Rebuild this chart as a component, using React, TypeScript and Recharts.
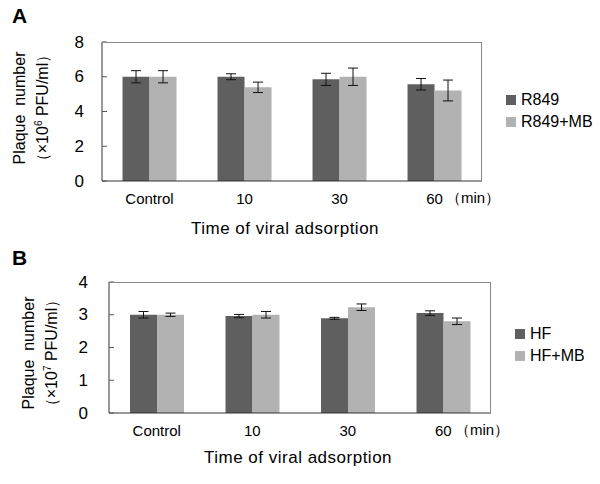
import { BarChart, Bar, XAxis, YAxis, ErrorBar } from "recharts";

const categories = ["Control", "10", "30", "60"];

// panel A
const r849 = [6.0, 6.0, 5.85, 5.57];
const r849Err = [0.35, 0.17, 0.35, 0.33];
const r849mb = [6.0, 5.39, 6.0, 5.21];
const r849mbErr = [0.35, 0.3, 0.5, 0.6];
const ticksA = [0, 2, 4, 6, 8];

// panel B
const hf = [3.0, 2.96, 2.89, 3.05];
const hfErr = [0.1, 0.05, 0.03, 0.07];
const hfmb = [3.0, 3.0, 3.23, 2.8];
const hfmbErr = [0.05, 0.1, 0.1, 0.1];
const ticksB = [0, 1, 2, 3, 4];

const DARK = "#5f5f5f";
const LIGHT = "#b2b2b2";
const FONT = '"Liberation Sans", Arial, sans-serif';

const abs = (left: number, top: number, extra: any = {}) => ({
  position: "absolute" as const,
  left,
  top,
  whiteSpace: "nowrap" as const,
  fontFamily: FONT,
  color: "#000",
  ...extra,
});

// y tick: label to the left, short tick mark pointing into the plot
const YTick = ({ x, y, payload, gap }: any) => (
  <g>
    <line x1={x} x2={x + 5} y1={y} y2={y} stroke="#555" />
    <text x={x - gap} y={y} textAnchor="end" dominantBaseline="central" fontSize={17} fontFamily={FONT} fill="#000">
      {payload.value}
    </text>
  </g>
);

function Panel({
  top, names, a, aErr, b, bErr, ticks, exp, plotLeft, plotRight, plotTop, plotBottom,
  height, letter, gap, tickGap, legendX, legendY, titleX, titleY, minX, minY, labelX, labelY,
}: any) {
  const data = categories.map((c, i) => ({
    name: c, a: a[i], aErr: aErr[i], b: b[i], bErr: bErr[i],
  }));
  const yw = 30;
  const xh = 30;
  return (
    <div style={{ position: "absolute", left: 0, top, width: 600, height }}>
      <BarChart
        width={600}
        height={height}
        data={data}
        barGap={0}
        barCategoryGap={gap}
        margin={{ top: plotTop, left: plotLeft - yw, right: 600 - plotRight, bottom: height - plotBottom - xh }}
      >
        <XAxis
          dataKey="name"
          tickLine={false}
          height={xh}
          stroke="#333"
          tick={{ fill: "#000", fontSize: 15, fontFamily: FONT }}
          tickMargin={6}
        />
        <YAxis
          width={yw}
          domain={[0, ticks[ticks.length - 1]]}
          ticks={ticks}
          interval={0}
          tickSize={0}
          tickMargin={0}
          stroke="#333"
          tick={<YTick gap={tickGap} />}
        />
        <Bar dataKey="a" name={names[0]} fill={DARK} isAnimationActive={false}>
          <ErrorBar dataKey="aErr" width={5} stroke="#111" strokeWidth={1} />
        </Bar>
        <Bar dataKey="b" name={names[1]} fill={LIGHT} isAnimationActive={false}>
          <ErrorBar dataKey="bErr" width={5} stroke="#111" strokeWidth={1} />
        </Bar>
      </BarChart>
      {/* top and right frame of the plot */}
      <div
        style={{
          position: "absolute",
          left: plotLeft,
          top: plotTop,
          width: plotRight - plotLeft,
          height: plotBottom - plotTop,
          borderTop: "1px solid #888",
          borderRight: "1px solid #888",
          boxSizing: "border-box",
          pointerEvents: "none",
        }}
      />
      <div style={abs(legendX, legendY, { fontSize: 16 })}>
        {[names[0], names[1]].map((n: string, i: number) => (
          <div key={n} style={{ display: "flex", alignItems: "center", height: 22 }}>
            <span style={{ width: 10, height: 10, background: i === 0 ? DARK : LIGHT, marginRight: 5 }} />
            {n}
          </div>
        ))}
      </div>
      <div style={abs(12, letter, { fontSize: 21, fontWeight: "bold" })}>{names[2]}</div>
      <div style={abs(titleX, titleY, { fontSize: 17, letterSpacing: 0.5 })}>Time of viral adsorption</div>
      <div style={abs(minX, minY, { fontSize: 15 })}>（min）</div>
      <div
        style={abs(labelX, labelY, {
          fontSize: 16,
          lineHeight: "23px",
          textAlign: "center",
          transform: "translate(-50%, -50%) rotate(-90deg)",
        })}
      >
        <div>Plaque&nbsp;&nbsp;number</div>
        <div>
          （×10<sup style={{ fontSize: 10, verticalAlign: "6px", lineHeight: 0 }}>{exp}</sup> PFU/ml）
        </div>
      </div>
    </div>
  );
}

export default function App() {
  return (
    <div style={{ position: "absolute", left: 0, top: 0, width: 600, height: 484, background: "#fff" }}>
      <Panel
        top={0}
        height={240}
        names={["R849", "R849+MB", "A"]}
        a={r849}
        aErr={r849Err}
        b={r849mb}
        bErr={r849mbErr}
        ticks={ticksA}
        exp="6"
        plotLeft={102}
        plotRight={482}
        plotTop={42}
        plotBottom={181}
        gap="21.6%"
        tickGap={18}
        letter={4}
        legendX={506}
        legendY={89}
        titleX={191}
        titleY={219}
        minX={446}
        minY={189}
        labelX={31}
        labelY={108}
      />
      <Panel
        top={240}
        height={244}
        names={["HF", "HF+MB", "B"]}
        a={hf}
        aErr={hfErr}
        b={hfmb}
        bErr={hfmbErr}
        ticks={ticksB}
        exp="7"
        plotLeft={109}
        plotRight={491}
        plotTop={42}
        plotBottom={173}
        gap="22%"
        tickGap={21}
        letter={6}
        legendX={515}
        legendY={83}
        titleX={204}
        titleY={208}
        minX={455}
        minY={181}
        labelX={40}
        labelY={113}
      />
    </div>
  );
}
